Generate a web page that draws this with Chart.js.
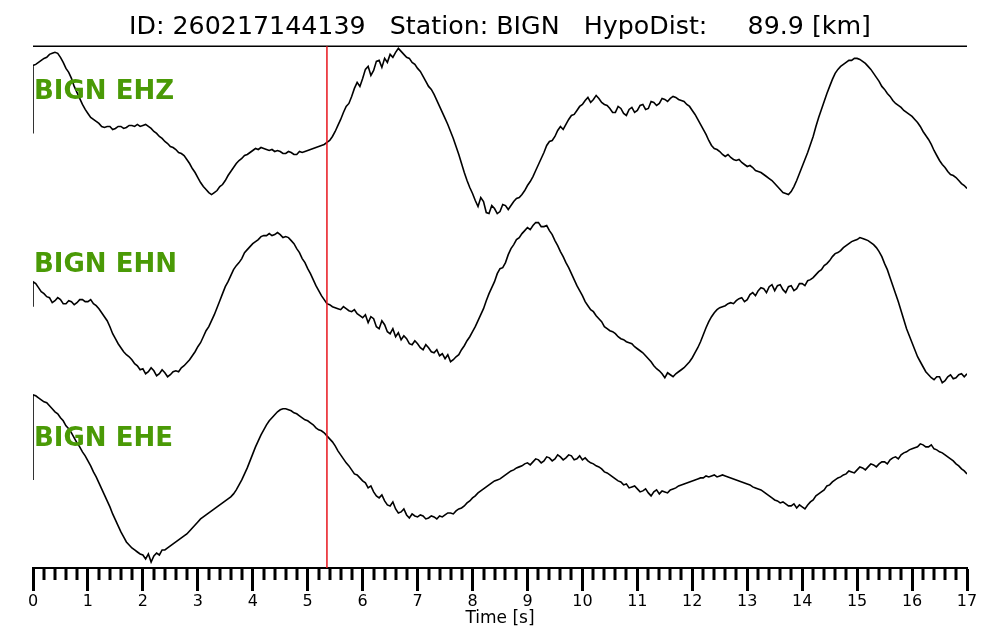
<!DOCTYPE html>
<html>
<head>
<meta charset="utf-8">
<script src="https://cdn.jsdelivr.net/npm/chart.js@4.4.1/dist/chart.umd.min.js"></script>
<style>
  html, body { margin: 0; padding: 0; background: #fff; }
  canvas { display: block; }
</style>
</head>
<body>
<canvas id="seismo" width="1000" height="640"></canvas>
<script>
// Header info
const eventId = "260217144139";
const station = "BIGN";
const hypoDist = "89.9";

// Channel names and vertical offset of each trace
const channels = ["BIGN EHZ", "BIGN EHN", "BIGN EHE"];
const traceOffsets = [0, -173, -346];

// Samples per second of the traces below (read every 0.05 s)
const sampleRate = 20;

// Pick time (red line), seconds
const pickTime = 5.35;

// x axis ticks
const xTicks = [0, 1, 2, 3, 4, 5, 6, 7, 8, 9, 10, 11, 12, 13, 14, 15, 16, 17];

// First sample of each trace (before the jump at t=0)
const firstSample = [0, 0, 0];

// Trace amplitudes (relative units), t = 0.00 .. 17.00 s, one row = 0.5 s
const ehz = [
  68, 69, 71, 73, 75, 76, 79, 80, 81, 80,
  76, 71, 65, 61, 55, 47, 41, 35, 29, 24,
  20, 16, 14, 12, 10, 7, 6, 7, 7, 4,
  5, 7, 7, 5, 6, 8, 8, 7, 9, 7,
  8, 9, 7, 5, 2, 0, -3, -5, -8, -10,
  -13, -14, -16, -19, -20, -22, -26, -30, -35, -39,
  -44, -49, -53, -56, -59, -61, -59, -57, -53, -51,
  -47, -42, -38, -34, -30, -27, -25, -22, -21, -19,
  -17, -15, -16, -14, -15, -16, -17, -16, -18, -17,
  -18, -20, -20, -18, -19, -21, -21, -18, -19, -18,
  -17, -16, -15, -14, -13, -12, -11, -9, -7, -3,
  2, 8, 14, 21, 27, 30, 37, 45, 51, 47,
  55, 64, 67, 58, 63, 72, 73, 66, 75, 71,
  79, 76, 81, 85, 82, 79, 76, 75, 71, 69,
  65, 62, 57, 52, 47, 44, 39, 33, 27, 21,
  15, 9, 2, -5, -13, -21, -30, -39, -47, -54,
  -60, -67, -73, -64, -68, -79, -80, -72, -75, -80,
  -78, -71, -72, -76, -72, -68, -65, -64, -61, -57,
  -52, -48, -43, -37, -31, -25, -19, -12, -8, -7,
  -3, 3, 7, 4, 9, 14, 18, 19, 23, 27,
  29, 33, 36, 31, 34, 38, 35, 31, 29, 28,
  25, 21, 21, 27, 25, 20, 18, 24, 26, 21,
  23, 28, 29, 24, 25, 32, 31, 28, 30, 35,
  34, 32, 35, 37, 36, 34, 33, 32, 29, 27,
  23, 19, 14, 9, 4, -1, -7, -12, -15, -16,
  -18, -21, -23, -21, -24, -26, -27, -26, -29, -31,
  -33, -32, -34, -37, -38, -39, -41, -43, -45, -47,
  -50, -53, -56, -59, -60, -61, -58, -53, -47, -40,
  -33, -26, -19, -11, -3, 7, 16, 24, 32, 40,
  47, 54, 60, 64, 67, 69, 71, 73, 73, 75,
  75, 74, 72, 70, 67, 64, 60, 56, 52, 47,
  44, 40, 37, 33, 30, 28, 26, 23, 21, 19,
  17, 14, 11, 7, 2, -2, -6, -11, -17, -22,
  -27, -31, -34, -38, -41, -42, -44, -47, -50, -52,
  -55
];

const ehn = [
  25, 23, 19, 15, 13, 10, 9, 4, 6, 9,
  7, 3, 3, 6, 5, 2, 4, 7, 7, 5,
  5, 7, 3, 1, -2, -6, -10, -14, -20, -27,
  -32, -37, -41, -45, -48, -50, -53, -57, -59, -63,
  -62, -67, -65, -61, -64, -69, -67, -63, -66, -70,
  -68, -65, -64, -65, -61, -59, -56, -53, -49, -45,
  -40, -36, -30, -24, -20, -14, -8, -1, 6, 13,
  20, 25, 31, 37, 41, 44, 48, 54, 57, 60,
  63, 65, 67, 70, 71, 71, 73, 71, 72, 74,
  72, 69, 70, 69, 66, 63, 58, 54, 48, 44,
  38, 33, 27, 21, 16, 11, 7, 3, 2, 0,
  -1, -2, -3, 0, -2, -4, -5, -3, -7, -9,
  -11, -8, -16, -10, -12, -20, -22, -14, -18, -25,
  -27, -22, -30, -26, -33, -29, -32, -37, -38, -34,
  -37, -41, -43, -38, -41, -45, -46, -43, -49, -47,
  -52, -48, -55, -53, -50, -48, -43, -39, -34, -30,
  -25, -20, -14, -8, -2, 6, 13, 19, 25, 33,
  38, 39, 44, 52, 58, 62, 67, 69, 73, 76,
  79, 77, 81, 84, 84, 80, 80, 81, 76, 72,
  66, 61, 55, 50, 44, 39, 33, 27, 21, 16,
  11, 5, 1, -3, -5, -9, -12, -15, -20, -22,
  -24, -25, -27, -30, -32, -33, -35, -36, -37, -40,
  -42, -44, -46, -49, -52, -55, -59, -62, -64, -67,
  -71, -66, -68, -70, -67, -65, -63, -61, -58, -55,
  -51, -46, -41, -35, -28, -21, -15, -10, -6, -3,
  -1, 0, 1, 3, 4, 3, 6, 8, 9, 5,
  7, 12, 14, 11, 16, 19, 18, 14, 20, 22,
  16, 21, 22, 17, 14, 20, 21, 16, 18, 23,
  23, 21, 26, 27, 29, 32, 35, 37, 41, 43,
  46, 50, 53, 54, 56, 59, 61, 63, 65, 66,
  67, 69, 68, 67, 66, 64, 62, 59, 55, 50,
  43, 37, 29, 21, 13, 5, -4, -13, -22, -29,
  -36, -43, -50, -55, -60, -65, -68, -71, -73, -70,
  -70, -76, -74, -70, -68, -72, -71, -68, -67, -70,
  -67
];

const ehe = [
  85, 84, 82, 80, 78, 77, 74, 71, 68, 66,
  62, 59, 54, 51, 47, 42, 37, 33, 28, 24,
  19, 14, 8, 3, -3, -9, -15, -21, -27, -34,
  -40, -46, -52, -57, -62, -65, -68, -70, -72, -74,
  -75, -79, -74, -82, -76, -73, -75, -70, -70, -68,
  -66, -64, -62, -60, -58, -56, -54, -51, -48, -45,
  -42, -39, -37, -35, -33, -31, -29, -27, -25, -23,
  -21, -19, -17, -14, -10, -5, 0, 6, 12, 19,
  26, 33, 39, 45, 50, 55, 59, 62, 65, 68,
  70, 71, 71, 70, 69, 67, 66, 64, 62, 60,
  59, 57, 55, 52, 50, 49, 47, 44, 41, 38,
  34, 29, 25, 21, 17, 14, 10, 6, 5, 2,
  -1, -3, -8, -6, -12, -16, -18, -15, -21, -25,
  -26, -22, -29, -33, -32, -29, -35, -38, -34, -36,
  -37, -35, -36, -39, -38, -36, -37, -39, -36, -37,
  -35, -33, -33, -34, -31, -29, -28, -26, -23, -21,
  -18, -16, -13, -11, -9, -7, -5, -3, -1, 0,
  1, 3, 5, 7, 9, 10, 12, 13, 14, 16,
  17, 15, 18, 21, 20, 17, 19, 23, 22, 19,
  21, 25, 23, 20, 22, 25, 24, 20, 21, 24,
  20, 22, 19, 17, 16, 14, 13, 11, 8, 7,
  5, 3, 1, -1, -2, -5, -4, -8, -7, -6,
  -9, -12, -11, -9, -13, -16, -12, -10, -14, -11,
  -12, -13, -10, -9, -8, -6, -5, -4, -3, -2,
  -1, 0, 1, 2, 2, 4, 3, 4, 5, 3,
  4, 5, 4, 3, 2, 1, 0, -1, -2, -3,
  -4, -5, -7, -8, -9, -10, -12, -14, -16, -18,
  -20, -21, -23, -22, -24, -26, -26, -24, -28, -25,
  -27, -29, -25, -22, -20, -16, -14, -12, -10, -6,
  -5, -2, 0, 2, 3, 5, 6, 9, 8, 7,
  10, 13, 12, 10, 13, 16, 15, 13, 16, 18,
  18, 16, 20, 22, 23, 21, 25, 27, 28, 30,
  31, 32, 33, 36, 35, 33, 33, 35, 31, 30,
  28, 27, 25, 23, 21, 19, 16, 14, 11, 9,
  6
];

const traces = [ehz, ehn, ehe];

// Build the line datasets, one per channel, shifted by its offset
const datasets = traces.map((values, k) => {
  const points = [{ x: 0, y: firstSample[k] + traceOffsets[k] }];
  values.forEach((v, i) => points.push({ x: i / sampleRate, y: v + traceOffsets[k] }));
  return {
    label: channels[k],
    data: points,
    borderColor: '#000',
    borderWidth: 1.6,
    pointRadius: 0,
    tension: 0,
    fill: false
  };
});

// Extra drawing: title underline, minor ticks, pick line, channel labels
const seismoPlugin = {
  id: 'seismoExtras',
  afterDatasetsDraw(chart) {
    const ctx = chart.ctx;
    const area = chart.chartArea;
    const xs = chart.scales.x;
    const ys = chart.scales.y;
    ctx.save();

    // line under the header
    ctx.strokeStyle = '#000';
    ctx.lineWidth = 1.5;
    ctx.beginPath();
    ctx.moveTo(area.left, area.top);
    ctx.lineTo(area.right, area.top);
    ctx.stroke();

    // minor ticks every 0.2 s
    ctx.lineWidth = 3;
    for (let i = 1; i < 85; i++) {
      if (i % 5 === 0) continue;
      const px = Math.round(xs.getPixelForValue(i / 5));
      ctx.beginPath();
      ctx.moveTo(px, area.bottom);
      ctx.lineTo(px, area.bottom + 12);
      ctx.stroke();
    }

    // pick line
    const pickX = xs.getPixelForValue(pickTime);
    ctx.strokeStyle = '#e8141c';
    ctx.lineWidth = 1.5;
    ctx.beginPath();
    ctx.moveTo(pickX, area.top);
    ctx.lineTo(pickX, area.bottom);
    ctx.stroke();

    // channel labels
    ctx.fillStyle = '#4a9a06';
    ctx.font = 'bold 26px "DejaVu Sans"';
    ctx.textBaseline = 'middle';
    ctx.textAlign = 'left';
    channels.forEach((name, k) => {
      ctx.fillText(name, area.left + 1, ys.getPixelForValue(traceOffsets[k] + 41));
    });
    ctx.restore();
  }
};

new Chart(document.getElementById('seismo'), {
  type: 'line',
  data: { datasets: datasets },
  options: {
    responsive: false,
    animation: false,
    devicePixelRatio: 1,
    layout: { padding: { left: 33, right: 33, top: 0, bottom: 11 } },
    plugins: {
      legend: { display: false },
      tooltip: { enabled: false },
      title: {
        display: true,
        text: 'ID: ' + eventId + '   Station: ' + station + '   HypoDist:     ' + hypoDist + ' [km]',
        color: '#000',
        font: { family: 'DejaVu Sans', size: 25.3, weight: 'normal' },
        padding: { top: 12, bottom: 4 }
      }
    },
    scales: {
      x: {
        type: 'linear',
        min: 0,
        max: 17,
        afterBuildTicks: scale => { scale.ticks = xTicks.map(v => ({ value: v })); },
        ticks: {
          color: '#000',
          font: { family: 'DejaVu Sans', size: 16 },
          padding: 1.4,
          maxRotation: 0,
          autoSkip: false
        },
        grid: {
          drawOnChartArea: false,
          drawTicks: true,
          tickLength: 23,
          tickWidth: 3,
          tickColor: '#000'
        },
        border: { display: true, color: '#000', width: 2 },
        title: {
          display: true,
          text: 'Time [s]',
          color: '#000',
          font: { family: 'DejaVu Sans', size: 17 },
          padding: { top: -4.4, bottom: 0 }
        }
      },
      y: {
        display: false,
        min: -434,
        max: 87
      }
    }
  },
  plugins: [seismoPlugin]
});
</script>
</body>
</html>
